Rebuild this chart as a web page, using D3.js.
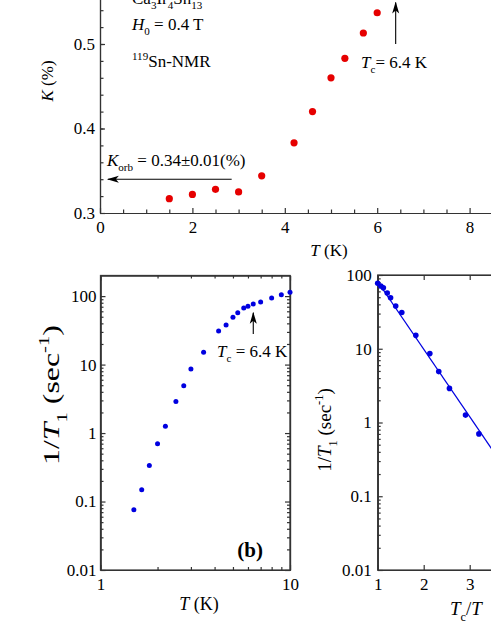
<!DOCTYPE html>
<meta charset="utf-8">
<style>
body { margin: 0; background: #fff; }
svg { display: block; font-family: "Liberation Serif", "Times New Roman", serif; }
.axis path, .axis line { stroke: #333; stroke-width: 1.2; }
</style>
<svg width="491" height="635"></svg>
<script src="https://d3js.org/d3.v7.min.js"></script>
<script>

// (a) Knight shift K vs T
var kT   = [1.5, 2.0, 2.5, 3.0, 3.5, 4.2, 4.6, 5.0, 5.3, 5.7, 6.0];
var kVal = [0.317, 0.322, 0.328, 0.325, 0.344, 0.383, 0.420, 0.460, 0.483, 0.513, 0.537];
var kXTicks = [0, 2, 4, 6, 8];
var kYTicks = [0.3, 0.4, 0.5];

// (b) 1/T1 vs T, (c) 1/T1 vs Tc/T
var t1T    = [1.5, 1.65, 1.81, 2.0, 2.2, 2.5, 2.75, 3.0, 3.5, 4.2, 4.6, 5.0, 5.3, 5.7, 6.0, 6.4, 7.0, 8.0, 9.0, 10.0];
var t1Rate = [0.076, 0.149, 0.335, 0.70, 1.26, 2.9, 4.9, 8.6, 15.2, 31, 38, 49, 57, 67, 71, 77, 82, 94, 105, 114];
var logYTicks = [0.01, 0.1, 1, 10, 100];
var logXTicks = [1, 10];
var ratioTicks = [1, 2, 3];

var Tc = 6.4, Korb = 0.34;
var fitLine = [[1, 81], [4, 0.146]];   // straight line in (c)

var svg = d3.select("svg");
var serif = '"Liberation Serif", "Times New Roman", serif';

var defs = svg.append("defs");
defs.append("marker")
    .attr("id", "head")
    .attr("viewBox", "0 -4 12 8")
    .attr("refX", 11).attr("refY", 0)
    .attr("markerWidth", 12).attr("markerHeight", 8)
    .attr("markerUnits", "userSpaceOnUse")
    .attr("orient", "auto")
  .append("path")
    .attr("d", "M0,-3.5L12,0L0,3.5L3,0Z")
    .attr("fill", "#000");

// rich text: parts = [[string, kind]], kind: n, i, sub, sup, b
function rich(g, x, y, parts, size) {
  var t = g.append("text").attr("x", x).attr("y", y)
      .attr("font-size", size).attr("fill", "#000");
  var shift = 0;
  parts.forEach(function(p) {
    var s = t.append("tspan").text(p[0]);
    var want = 0;
    if (p[1] == "sub") { want = size * 0.32; s.attr("font-size", size * 0.65); }
    if (p[1] == "sup") { want = -size * 0.42; s.attr("font-size", size * 0.65); }
    if (p[1] == "i") s.attr("font-style", "italic");
    if (p[1] == "b") s.attr("font-weight", "bold");
    if (want != shift) { s.attr("dy", want - shift); shift = want; }
  });
  return t;
}

function logMinor(lo, hi) {
  var v = [];
  for (var e = Math.floor(Math.log10(lo)); e <= Math.ceil(Math.log10(hi)); e++)
    for (var k = 2; k <= 9; k++) {
      var t = k * Math.pow(10, e);
      if (t > lo && t < hi) v.push(t);
    }
  return v;
}

function fmtLog(d) { return d >= 1 ? String(d) : String(+d.toFixed(2)); }

// ---------------- (a) ----------------
var xa = d3.scaleLinear().domain([0, 9]).range([100, 515.8]);
var ya = d3.scaleLinear().domain([0.3, 0.56]).range([213, 213 - 0.26 * 845]);
var ga = svg.append("g");

ga.append("g").attr("class", "axis").attr("transform", "translate(0,213)")
    .call(d3.axisBottom(xa).tickValues(d3.range(0, 9.01, 0.5).filter(function(d) { return d % 2; }))
      .tickSize(-3.5).tickSizeOuter(0).tickFormat(""));
ga.append("g").attr("class", "axis").attr("transform", "translate(0,213)")
    .call(d3.axisBottom(xa).tickValues(kXTicks).tickSize(-5).tickSizeOuter(0).tickPadding(8));
ga.append("g").attr("class", "axis").attr("transform", "translate(100,0)")
    .call(d3.axisLeft(ya).tickValues(d3.range(0.32, 0.555, 0.02)).tickSize(-3.5).tickSizeOuter(0).tickFormat(""));
ga.append("g").attr("class", "axis").attr("transform", "translate(100,0)")
    .call(d3.axisLeft(ya).tickValues(kYTicks).tickSize(-5).tickSizeOuter(0).tickPadding(5).tickFormat(d3.format(".1f")));

ga.selectAll("circle").data(kT).enter().append("circle")
    .attr("cx", function(d) { return xa(d); })
    .attr("cy", function(d, i) { return ya(kVal[i]); })
    .attr("r", 3.6)
    .attr("fill", "#e60000");

ga.append("line")
    .attr("x1", xa(2.85)).attr("x2", xa(0.17))
    .attr("y1", ya(Korb)).attr("y2", ya(Korb))
    .attr("stroke", "#000").attr("stroke-width", 1.1)
    .attr("marker-end", "url(#head)");
rich(ga, 107, 166, [["K", "i"], ["orb", "sub"], [" = 0.34\u00b10.01(%)", "n"]], 17);

ga.append("line")
    .attr("x1", xa(Tc)).attr("x2", xa(Tc))
    .attr("y1", ya(0.5)).attr("y2", ya(0.549))
    .attr("stroke", "#000").attr("stroke-width", 1.1)
    .attr("marker-end", "url(#head)");
rich(ga, 361, 68, [["T", "i"], ["c", "sub"], ["= 6.4 K", "n"]], 17);

rich(ga, 132, 4, [["Ca", "n"], ["3", "sub"], ["Ir", "n"], ["4", "sub"], ["Sn", "n"], ["13", "sub"]], 17);
rich(ga, 132, 30, [["H", "i"], ["0", "sub"], [" = 0.4 T", "n"]], 17);
rich(ga, 132, 67, [["119", "sup"], ["Sn-NMR", "n"]], 17);

rich(ga, 0, 0, [["K", "i"], [" (%)", "n"]], 17)
    .attr("text-anchor", "middle")
    .attr("transform", "translate(53,81) rotate(-90)");
rich(ga, 329, 256, [["T", "i"], [" (K)", "n"]], 17).attr("text-anchor", "middle");

// ---------------- (b) ----------------
var xb = d3.scaleLog().domain([1, 10]).range([100.5, 290]);
var yb = d3.scaleLog().domain([0.01, 200]).range([570, 275.5]);
var gb = svg.append("g");

gb.append("rect").attr("x", 100.5).attr("y", 275.5).attr("width", 189.5).attr("height", 294.5)
    .attr("fill", "none").attr("stroke", "#444").attr("stroke-width", 1.3);

[["axisBottom", 570], ["axisTop", 275.5]].forEach(function(a) {
  gb.append("g").attr("class", "axis").attr("transform", "translate(0," + a[1] + ")")
      .call(d3[a[0]](xb).tickValues(logMinor(1, 10)).tickSize(-3).tickSizeOuter(0).tickFormat(""));
  gb.append("g").attr("class", "axis").attr("transform", "translate(0," + a[1] + ")")
      .call(d3[a[0]](xb).tickValues(logXTicks).tickSize(-5).tickSizeOuter(0).tickPadding(8)
        .tickFormat(a[0] == "axisBottom" ? fmtLog : ""));
});
[["axisLeft", 100.5], ["axisRight", 290]].forEach(function(a) {
  gb.append("g").attr("class", "axis").attr("transform", "translate(" + a[1] + ",0)")
      .call(d3[a[0]](yb).tickValues(logMinor(0.01, 200)).tickSize(-3).tickSizeOuter(0).tickFormat(""));
  gb.append("g").attr("class", "axis").attr("transform", "translate(" + a[1] + ",0)")
      .call(d3[a[0]](yb).tickValues(logYTicks).tickSize(-5).tickSizeOuter(0).tickPadding(4)
        .tickFormat(a[0] == "axisLeft" ? fmtLog : ""));
});
gb.selectAll(".axis path").attr("stroke", "none");

gb.selectAll("circle").data(t1T).enter().append("circle")
    .attr("cx", function(d) { return xb(d); })
    .attr("cy", function(d, i) { return yb(t1Rate[i]); })
    .attr("r", 2.5)
    .attr("fill", "#0000e0");

gb.append("line")
    .attr("x1", xb(Tc)).attr("x2", xb(Tc))
    .attr("y1", yb(28)).attr("y2", yb(57))
    .attr("stroke", "#000").attr("stroke-width", 1.1)
    .attr("marker-end", "url(#head)");
rich(gb, 217, 357, [["T", "i"], ["c", "sub"], [" = 6.4 K", "n"]], 17);
rich(gb, 263, 557, [["(b)", "b"]], 21).attr("text-anchor", "end");

rich(gb, 0, 0, [["1/", "n"], ["T", "i"], ["1", "sub"], [" (sec", "n"], ["-1", "sup"], [")", "n"]], 24)
    .attr("text-anchor", "middle")
    .attr("textLength", 140).attr("lengthAdjust", "spacingAndGlyphs")
    .attr("transform", "translate(59,395) rotate(-90)");
rich(gb, 199, 610, [["T", "i"], [" (K)", "n"]], 18).attr("text-anchor", "middle");

// ---------------- (c) ----------------
var xc = d3.scaleLinear().domain([1, 4]).range([377.7, 515.7]);
var yc = d3.scaleLog().domain([0.01, 100]).range([570, 275]);
var gc = svg.append("g");

gc.append("rect").attr("x", 377.7).attr("y", 275).attr("width", 138).attr("height", 295)
    .attr("fill", "none").attr("stroke", "#444").attr("stroke-width", 1.3);

gc.append("g").attr("class", "axis").attr("transform", "translate(0,570)")
    .call(d3.axisBottom(xc).tickValues(ratioTicks).tickSize(-5).tickSizeOuter(0).tickPadding(8)
      .tickFormat(d3.format("d")));
gc.append("g").attr("class", "axis").attr("transform", "translate(0,275)")
    .call(d3.axisTop(xc).tickValues(ratioTicks).tickSize(-5).tickSizeOuter(0).tickFormat(""));
gc.append("g").attr("class", "axis").attr("transform", "translate(377.7,0)")
    .call(d3.axisLeft(yc).tickValues(logMinor(0.01, 100)).tickSize(-3).tickSizeOuter(0).tickFormat(""));
gc.append("g").attr("class", "axis").attr("transform", "translate(377.7,0)")
    .call(d3.axisLeft(yc).tickValues(logYTicks).tickSize(-5).tickSizeOuter(0).tickPadding(6).tickFormat(fmtLog));
gc.selectAll(".axis path").attr("stroke", "none");

var ratio = t1T.map(function(t, i) { return { x: Tc / t, y: t1Rate[i] }; })
    .filter(function(d) { return d.x >= 0.999; });

gc.append("path")
    .datum(fitLine)
    .attr("fill", "none").attr("stroke", "#0000e0").attr("stroke-width", 1.3)
    .attr("d", d3.line().x(function(d) { return xc(d[0]); }).y(function(d) { return yc(d[1]); }));

gc.selectAll("circle").data(ratio).enter().append("circle")
    .attr("cx", function(d) { return xc(d.x); })
    .attr("cy", function(d) { return yc(d.y); })
    .attr("r", 2.8)
    .attr("fill", "#0000e0");

rich(gc, 0, 0, [["1/", "n"], ["T", "i"], ["1", "sub"], [" (sec", "n"], ["-1", "sup"], [")", "n"]], 19)
    .attr("text-anchor", "middle")
    .attr("transform", "translate(331,430) rotate(-90)");
rich(gc, 450, 615, [["T", "i"], ["c", "sub"], ["/", "n"], ["T", "i"]], 19);

// tick labels in Times-like face
svg.selectAll(".axis").attr("font-family", null).attr("font-size", null);
svg.selectAll(".tick text")
    .style("font-family", serif).style("font-size", "17px").attr("fill", "#000");

</script>
